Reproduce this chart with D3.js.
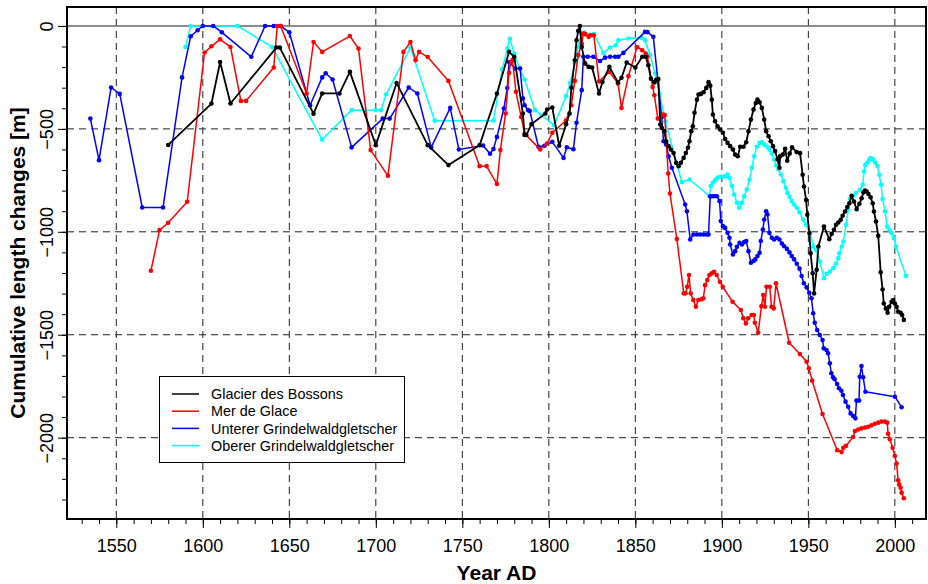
<!DOCTYPE html>
<html>
<head>
<meta charset="utf-8">
<script src="https://cdn.jsdelivr.net/npm/d3@7"></script>
<style>
  body { margin: 0; background: #fff; }
  svg { display: block; font-family: "Liberation Sans", Arial, Helvetica, sans-serif; }
</style>
</head>
<body>
<svg id="chart" width="928" height="584"></svg>
<script>
//======
// Data
//======

// cumulative length changes [m], [year, value]
var bossons = [[1580,-578],[1605,-377],[1610,-175],[1616,-377],[1642.5,-105],[1644.5,-105],[1664,-426],[1669,-328],[1679,-328],[1685,-223],[1700,-579],[1712,-277],[1730,-579],[1742,-676],[1760,-579],[1770,-328],[1777,-126],[1780,-150],[1785,-425],[1786,-530],[1787,-530],[1790,-477],[1798,-425],[1799,-406],[1802,-396],[1806,-582],[1810,-477],[1812,-425],[1813,-300],[1815,-167],[1816,-70],[1817,-24],[1818,0],[1819,-102],[1821,-183],[1823,-199],[1825,-202],[1829,-328],[1831,-272],[1835,-199],[1840,-275],[1842,-252],[1845,-178],[1850,-202],[1854,-150],[1856,-150],[1857.5,-191],[1859,-256],[1861,-275],[1862,-262],[1863.3,-258],[1864.4,-479],[1865.3,-495],[1866.7,-511],[1867.8,-560],[1869.2,-584],[1870.5,-600],[1872.1,-617],[1873.6,-665],[1875,-681],[1876.3,-665],[1877.9,-641],[1879.2,-617],[1880.4,-592],[1881.3,-560],[1882.3,-511],[1883.2,-487],[1884.2,-422],[1885.6,-358],[1886.5,-333],[1887.9,-330],[1889.4,-322],[1891,-301],[1892.3,-273],[1893.3,-290],[1894.2,-358],[1894.8,-430],[1896.1,-463],[1897.5,-487],[1899,-503],[1900.6,-519],[1901.9,-549],[1903.3,-568],[1904.8,-584],[1906.4,-600],[1907.7,-625],[1909.2,-633],[1910.6,-587],[1912.5,-587],[1914.1,-565],[1915.4,-511],[1916.8,-455],[1918.3,-406],[1919.6,-374],[1920.6,-358],[1921.8,-371],[1923.1,-398],[1924.5,-455],[1925.6,-511],[1927,-536],[1928.3,-560],[1929.5,-584],[1930.8,-608],[1932.2,-649],[1933.3,-689],[1933.7,-633],[1935.2,-625],[1936.6,-597],[1937.8,-655],[1939.2,-620],[1940.6,-590],[1943.2,-612],[1945.2,-618],[1946.7,-723],[1947.5,-780],[1948.7,-845],[1949.4,-917],[1950.6,-1006],[1951.3,-1104],[1952.5,-1201],[1953.3,-1300],[1954.8,-1184],[1955.8,-1071],[1959,-974],[1962.1,-1036],[1963.5,-1010],[1964.8,-990],[1966,-966],[1967.3,-955],[1968.7,-942],[1969.8,-922],[1971.2,-901],[1972.5,-880],[1973.7,-861],[1975,-825],[1976.4,-853],[1977.9,-890],[1979.5,-864],[1980.8,-837],[1981.8,-809],[1982.7,-799],[1983.7,-804],[1984.7,-816],[1986,-832],[1987.2,-861],[1987.9,-901],[1989.1,-950],[1990.4,-1019],[1991.8,-1197],[1992.9,-1280],[1993.6,-1348],[1994.8,-1372],[1995.8,-1393],[1996.7,-1364],[1998.1,-1340],[1999,-1331],[2000,-1348],[2001,-1364],[2001.9,-1388],[2003.3,-1393],[2004.2,-1404],[2005.2,-1428]];

var merDeGlace = [[1570,-1189],[1575,-992],[1580,-956],[1591,-854],[1601,-129],[1605,-99],[1610,-65],[1616,-102],[1622,-364],[1625,-364],[1641,-202],[1643,0],[1645,0],[1660,-328],[1664,-78],[1669,-126],[1685,-49],[1690,-110],[1697,-603],[1707,-728],[1716,-126],[1720,-78],[1723,-167],[1725,-126],[1730,-151],[1742,-267],[1760,-681],[1764,-681],[1770,-768],[1772,-603],[1775,-425],[1777,-228],[1778,-175],[1779,-165],[1781,-320],[1784,-442],[1786,-523],[1795,-600],[1799,-571],[1802,-519],[1810,-458],[1813,-385],[1815,-267],[1817,-142],[1819,-86],[1820,-37],[1821,-40],[1823,-53],[1824,-45],[1826,-45],[1829,-270],[1835,-223],[1840,-280],[1842,-398],[1846,-244],[1851,-102],[1854,-118],[1856,-134],[1857,-150],[1860,-296],[1861,-337],[1863,-450],[1864,-450],[1866,-431],[1867,-433],[1869,-717],[1870,-814],[1874,-1035],[1878,-1299],[1879,-1299],[1880,-1267],[1881,-1210],[1882,-1299],[1883.5,-1331],[1885,-1364],[1886.4,-1331],[1888.3,-1328],[1889.3,-1323],[1890.3,-1259],[1891.6,-1234],[1892.8,-1210],[1894.1,-1202],[1895.5,-1194],[1897,-1210],[1898.9,-1243],[1900.5,-1267],[1906.2,-1340],[1911,-1380],[1912.4,-1420],[1913.9,-1445],[1915.2,-1420],[1917.2,-1404],[1918.5,-1404],[1919.1,-1442],[1921,-1490],[1922.9,-1361],[1923.9,-1307],[1924.9,-1364],[1925.8,-1267],[1927.7,-1267],[1928.7,-1364],[1930,-1372],[1931.3,-1250],[1938.9,-1539],[1945.1,-1594],[1949,-1631],[1950.3,-1663],[1952.2,-1723],[1958.2,-1885],[1966.7,-2061],[1969.2,-2070],[1970.2,-2049],[1971.7,-2040],[1975.9,-1997],[1976.9,-1968],[1978.8,-1960],[1980.7,-1955],[1982.7,-1951],[1984.6,-1947],[1986.5,-1940],[1988.4,-1932],[1990.4,-1927],[1992.3,-1922],[1994.2,-1922],[1995.6,-1927],[1996.1,-1981],[1997.1,-2008],[1998.7,-2049],[2000,-2089],[2001,-2126],[2001.9,-2207],[2002.5,-2227],[2003.3,-2243],[2003.9,-2267],[2005.2,-2294]];

var untererGrindelwald = [[1535,-450],[1540,-652],[1547,-299],[1552,-330],[1565,-882],[1577,-882],[1588,-250],[1593,-50],[1597,-21],[1600,0],[1606,0],[1611,-31],[1628,-150],[1636,0],[1641,0],[1645,0],[1650,-31],[1662,-385],[1669,-250],[1671,-230],[1675,-260],[1686,-590],[1704,-450],[1708,-450],[1719,-299],[1724,-328],[1732,-590],[1743,-398],[1748,-600],[1762,-581],[1766,-621],[1768,-598],[1770,-539],[1774,-401],[1776,-302],[1777,-175],[1780.5,-207],[1783.4,-207],[1785,-352],[1786,-385],[1788,-409],[1789,-413],[1794,-587],[1797.5,-582],[1802,-563],[1808.5,-641],[1810.4,-589],[1814.2,-599],[1816,-470],[1819,-312],[1820,-150],[1822.5,-150],[1825.7,-150],[1829.6,-170],[1832.5,-154],[1835.4,-150],[1838.3,-150],[1840.2,-150],[1843.1,-131],[1855.6,-29],[1857,-30],[1860.4,-53],[1865.2,-442],[1866.3,-560],[1867.8,-576],[1869.2,-633],[1871.1,-689],[1878.8,-867],[1879.8,-900],[1881.7,-1037],[1883.6,-1013],[1885.6,-1013],[1887.5,-1013],[1889.4,-1013],[1891.3,-1013],[1892.3,-1013],[1893.3,-827],[1894.2,-827],[1895.6,-827],[1897.1,-827],[1898.7,-851],[1899.4,-948],[1900.6,-972],[1901.9,-981],[1903.3,-1005],[1904.4,-1029],[1904.8,-1062],[1906.4,-1110],[1907.7,-1094],[1908.7,-1073],[1910.2,-1053],[1911.6,-1062],[1912.9,-1050],[1914.1,-1045],[1915.4,-1094],[1916.8,-1150],[1918.3,-1142],[1919.3,-1134],[1920.6,-1118],[1921.8,-1102],[1922.5,-1045],[1923.7,-989],[1924.5,-940],[1925.6,-900],[1926.4,-916],[1927.5,-1005],[1928.9,-1029],[1930.2,-1037],[1931.8,-1029],[1933.3,-1037],[1934.7,-1057],[1936,-1070],[1937.6,-1083],[1939.1,-1100],[1940.4,-1118],[1941.8,-1134],[1943.3,-1155],[1944.9,-1179],[1946.1,-1215],[1947.4,-1250],[1949,-1270],[1950.5,-1296],[1951.8,-1323],[1952.8,-1396],[1953.7,-1442],[1955.1,-1477],[1956.6,-1501],[1958.2,-1526],[1958.9,-1566],[1960.5,-1574],[1961.4,-1590],[1962.4,-1639],[1963.3,-1687],[1964.3,-1707],[1965.2,-1716],[1966.6,-1739],[1967.7,-1760],[1969.1,-1772],[1970,-1793],[1971.5,-1825],[1973,-1850],[1974.4,-1882],[1975.9,-1895],[1977.2,-1906],[1977.8,-1820],[1979.3,-1820],[1979.7,-1704],[1980.7,-1652],[1981.7,-1707],[1983,-1777],[2000,-1801],[2003.9,-1852]];

var obererGrindelwald = [[1590,-102],[1593,0],[1600,0],[1620,0],[1640,-102],[1669,-552],[1686,-409],[1700,-409],[1703,-409],[1706,-332],[1720,-105],[1734,-460],[1768,-460],[1773,-212],[1776,-110],[1777.5,-62],[1780,-134],[1783,-207],[1786,-260],[1792,-409],[1796,-434],[1803,-482],[1810,-341],[1812.3,-277],[1815,-183],[1817,-100],[1818.6,-37],[1820.5,-32],[1826,-40],[1831.5,-131],[1835.4,-105],[1838.7,-94],[1840.2,-70],[1846,-61],[1853.7,-57],[1855.6,-70],[1858.5,-140],[1861.4,-231],[1864,-330],[1867.3,-463],[1876.9,-759],[1881.3,-746],[1892.9,-827],[1893.6,-778],[1894.8,-762],[1896.1,-749],[1897.5,-738],[1899,-733],[1900.6,-733],[1901.9,-730],[1903.3,-722],[1904.4,-738],[1905.8,-778],[1907.1,-819],[1908.7,-859],[1910,-883],[1911.6,-859],[1912.9,-827],[1914.4,-795],[1916,-746],[1917.3,-689],[1918.7,-633],[1920.2,-587],[1921.8,-568],[1923.1,-565],[1924.5,-576],[1926,-587],[1927.5,-600],[1928.9,-620],[1930.2,-649],[1931.4,-678],[1932.7,-697],[1934.1,-722],[1935.6,-754],[1937,-786],[1937.9,-811],[1939.1,-830],[1940.4,-851],[1941.8,-867],[1943.3,-883],[1944.9,-905],[1947.1,-942],[1948.7,-966],[1951,-1003],[1952.9,-1071],[1954.4,-1087],[1956.7,-1144],[1959,-1225],[1960.6,-1204],[1962.5,-1193],[1964.4,-1176],[1966,-1155],[1967.3,-1128],[1967.9,-1104],[1969.3,-1071],[1970.2,-1047],[1971.8,-966],[1973.1,-893],[1974.1,-841],[1975.6,-828],[1977.5,-812],[1979.8,-796],[1981.4,-772],[1982.2,-707],[1982.9,-675],[1984.1,-663],[1985.2,-650],[1986,-642],[1987.2,-647],[1988.5,-663],[1989.9,-680],[1991,-723],[1992,-772],[1992.9,-841],[1994.3,-901],[1995.6,-974],[1996.8,-990],[1998.1,-1007],[1999.5,-1031],[2000.6,-1071],[2006.4,-1214]];

var seriesNames = ["Glacier des Bossons", "Mer de Glace", "Unterer Grindelwaldgletscher", "Oberer Grindelwaldgletscher"];
var seriesColors = ["#000000", "#ff0000", "#0000ff", "#00ffff"];

var xMajorTicks = d3.range(1550, 2001, 50);
var xMinorTicks = d3.range(1530, 2011, 10);
var yMajorTicks = [0, -500, -1000, -1500, -2000];
var yMinorTicks = d3.range(0, -2301, -100);

//=======
// Chart
//=======

var box = {left: 67, right: 926, top: 7, bottom: 519};

var x = d3.scaleLinear().domain([1521.5, 2018]).range([box.left, box.right]);
var y = d3.scaleLinear().domain([-2395, 92]).range([box.bottom, box.top]);

var svg = d3.select("#chart");

// grid
var grid = svg.append("g").attr("stroke", "#222").attr("stroke-width", 1).attr("stroke-dasharray", "7,5");
grid.selectAll("line.v")
  .data(xMajorTicks)
  .enter().append("line")
  .attr("x1", function (d) { return x(d); })
  .attr("x2", function (d) { return x(d); })
  .attr("y1", box.top)
  .attr("y2", box.bottom);
grid.selectAll("line.h")
  .data(yMajorTicks.filter(function (d) { return d !== 0; }))
  .enter().append("line")
  .attr("x1", box.left)
  .attr("x2", box.right)
  .attr("y1", function (d) { return y(d); })
  .attr("y2", function (d) { return y(d); });

svg.append("line")
  .attr("x1", box.left).attr("x2", box.right)
  .attr("y1", y(0)).attr("y2", y(0))
  .attr("stroke", "#666").attr("stroke-width", 1.5);

// series, drawn back to front
var glaciers = [bossons, merDeGlace, untererGrindelwald, obererGrindelwald];
var drawOrder = [3, 2, 1, 0];
var line = d3.line()
  .x(function (d) { return x(d[0]); })
  .y(function (d) { return y(d[1]); });

drawOrder.forEach(function (i) {
  var g = svg.append("g");
  g.append("path")
    .datum(glaciers[i])
    .attr("d", line)
    .attr("fill", "none")
    .attr("stroke", seriesColors[i])
    .attr("stroke-width", i === 0 ? 1.8 : 1.5)
    .attr("stroke-linejoin", "round");
  g.selectAll("circle")
    .data(glaciers[i])
    .enter().append("circle")
    .attr("cx", function (d) { return x(d[0]); })
    .attr("cy", function (d) { return y(d[1]); })
    .attr("r", 2.3)
    .attr("fill", seriesColors[i]);
});

// axes
function styleAxis(g) {
  g.select(".domain").remove();
  g.selectAll(".tick line").attr("stroke", "#000").attr("stroke-width", 1);
}

svg.append("g")
  .attr("transform", "translate(0," + box.bottom + ")")
  .call(d3.axisBottom(x).tickValues(xMinorTicks).tickSize(5).tickFormat(""))
  .call(styleAxis);

svg.append("g")
  .attr("transform", "translate(0," + box.bottom + ")")
  .call(d3.axisBottom(x).tickValues(xMajorTicks).tickSize(9).tickFormat(d3.format("d")))
  .call(styleAxis)
  .call(function (g) {
    g.selectAll("text")
      .attr("y", 32.5)
      .attr("dy", null)
      .attr("fill", "#000")
      .style("font-size", "18px")
      .style("font-family", "'Liberation Sans', Arial, sans-serif");
  });

svg.append("g")
  .attr("transform", "translate(" + box.left + ",0)")
  .call(d3.axisLeft(y).tickValues(yMinorTicks).tickSize(5).tickFormat(""))
  .call(styleAxis);

svg.append("g")
  .attr("transform", "translate(" + box.left + ",0)")
  .call(d3.axisLeft(y).tickValues(yMajorTicks).tickSize(9).tickFormat(d3.format("d")))
  .call(styleAxis)
  .call(function (g) {
    g.selectAll("text")
      .attr("x", null)
      .attr("dy", null)
      .attr("transform", "translate(-13.7,0) rotate(-90)")
      .attr("text-anchor", "middle")
      .attr("fill", "#000")
      .style("font-size", "18px")
      .style("font-family", "'Liberation Sans', Arial, sans-serif");
  });

// frame
svg.append("rect")
  .attr("x", box.left).attr("y", box.top)
  .attr("width", box.right - box.left).attr("height", box.bottom - box.top)
  .attr("fill", "none").attr("stroke", "#000").attr("stroke-width", 2);

// axis titles
svg.append("text")
  .attr("x", (box.left + box.right) / 2)
  .attr("y", 579.5)
  .attr("text-anchor", "middle")
  .style("font-size", "21px").style("font-weight", "bold")
  .text("Year AD");

svg.append("text")
  .attr("transform", "translate(25," + ((box.top + box.bottom) / 2) + ") rotate(-90)")
  .attr("text-anchor", "middle")
  .style("font-size", "21px").style("font-weight", "bold")
  .text("Cumulative length changes [m]");

// legend
var legend = svg.append("g").attr("transform", "translate(159.5,376.5)");
legend.append("rect")
  .attr("width", 245).attr("height", 86)
  .attr("fill", "#fff").attr("stroke", "#000").attr("stroke-width", 1);

var entry = legend.selectAll("g.entry")
  .data(seriesNames)
  .enter().append("g")
  .attr("transform", function (d, i) { return "translate(0," + (17.5 + i * 17.2) + ")"; });

entry.append("line")
  .attr("x1", 12.5).attr("x2", 39.5)
  .attr("stroke", function (d, i) { return seriesColors[i]; })
  .attr("stroke-width", 1.5);

entry.append("text")
  .attr("x", 51.5)
  .attr("y", 5.2)
  .style("font-size", "14.4px")
  .text(function (d) { return d; });
</script>
</body>
</html>
